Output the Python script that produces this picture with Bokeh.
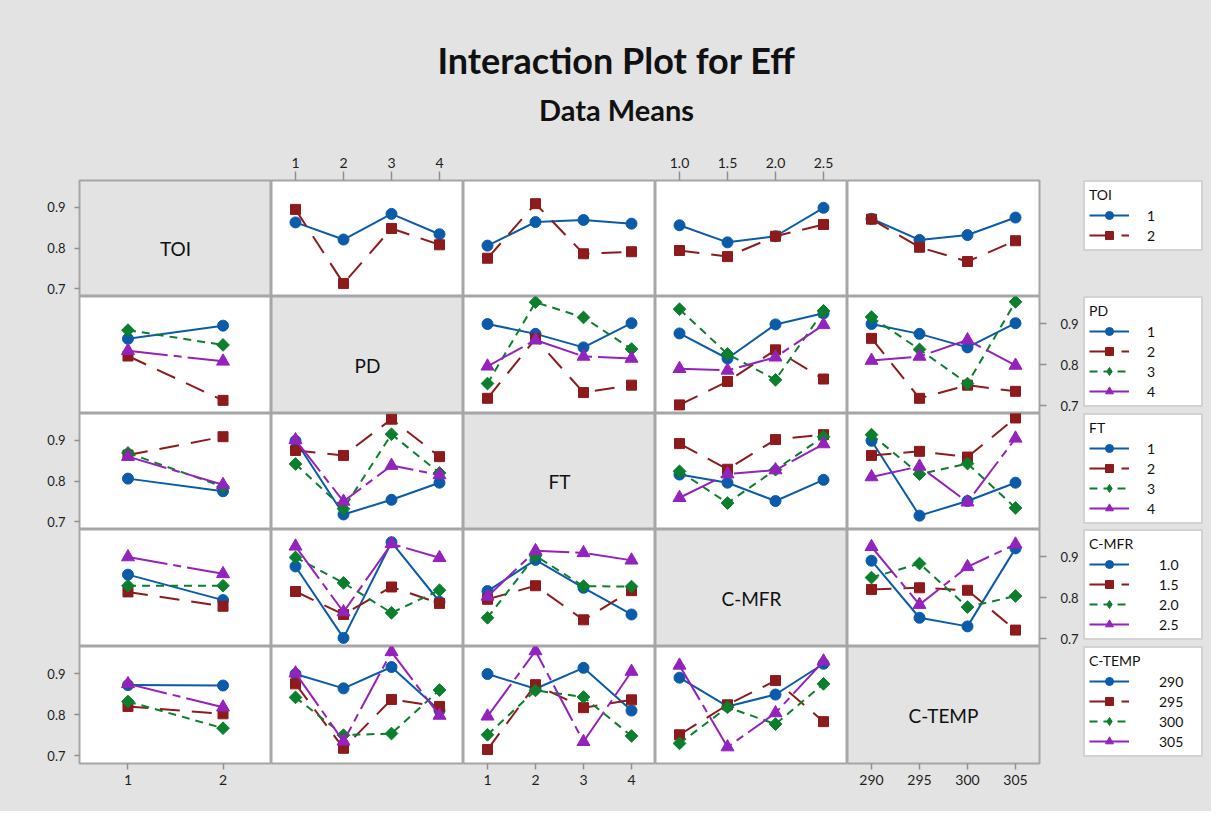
import math
from bokeh.plotting import figure
from bokeh.layouts import gridplot, column
from bokeh.models import Range1d, LinearAxis, FixedTicker, Legend, LegendItem, Label
from bokeh.embed import file_html
from bokeh.resources import INLINE

# ---------------- data ----------------
factors = ["TOI", "PD", "FT", "C-MFR", "C-TEMP"]
toi_levels = [1, 2]
pd_levels = [1, 2, 3, 4]
ft_levels = [1, 2, 3, 4]
cmfr_levels = [1.0, 1.5, 2.0, 2.5]
ctemp_levels = [290, 295, 300, 305]
toi_labels = ["1", "2"]
pd_labels = ["1", "2", "3", "4"]
ft_labels = ["1", "2", "3", "4"]
cmfr_labels = ["1.0", "1.5", "2.0", "2.5"]
ctemp_labels = ["290", "295", "300", "305"]
y_ticks = [0.7, 0.8, 0.9]

# mean of Eff: rows = levels of first factor, columns = levels of second factor
toi_pd = [[0.863, 0.821, 0.884, 0.834],
          [0.895, 0.713, 0.848, 0.808]]
toi_ft = [[0.806, 0.864, 0.869, 0.860],
          [0.775, 0.909, 0.786, 0.791]]
toi_cmfr = [[0.856, 0.814, 0.829, 0.899],
            [0.794, 0.779, 0.829, 0.858]]
toi_ctemp = [[0.872, 0.820, 0.832, 0.875],
             [0.871, 0.802, 0.767, 0.818]]
pd_ft = [[0.899, 0.875, 0.842, 0.901],
         [0.718, 0.863, 0.732, 0.750],
         [0.754, 0.952, 0.915, 0.838],
         [0.796, 0.860, 0.820, 0.815]]
pd_cmfr = [[0.876, 0.815, 0.898, 0.925],
           [0.702, 0.759, 0.836, 0.765],
           [0.935, 0.826, 0.763, 0.931],
           [0.790, 0.786, 0.818, 0.897]]
pd_ctemp = [[0.899, 0.875, 0.842, 0.901],
            [0.864, 0.718, 0.750, 0.735],
            [0.916, 0.837, 0.754, 0.953],
            [0.810, 0.820, 0.860, 0.798]]
ft_cmfr = [[0.816, 0.796, 0.751, 0.803],
           [0.892, 0.829, 0.902, 0.914],
           [0.824, 0.746, 0.828, 0.909],
           [0.759, 0.817, 0.827, 0.891]]
ft_ctemp = [[0.899, 0.715, 0.751, 0.796],
            [0.863, 0.873, 0.859, 0.955],
            [0.914, 0.817, 0.843, 0.734],
            [0.810, 0.836, 0.748, 0.905]]
cmfr_ctemp = [[0.890, 0.751, 0.730, 0.920],
              [0.820, 0.824, 0.818, 0.721],
              [0.849, 0.883, 0.777, 0.804],
              [0.924, 0.783, 0.875, 0.930]]

levels = {"TOI": toi_levels, "PD": pd_levels, "FT": ft_levels,
          "C-MFR": cmfr_levels, "C-TEMP": ctemp_levels}
labels = {"TOI": toi_labels, "PD": pd_labels, "FT": ft_labels,
          "C-MFR": cmfr_labels, "C-TEMP": ctemp_labels}
tables = {("TOI", "PD"): toi_pd, ("TOI", "FT"): toi_ft, ("TOI", "C-MFR"): toi_cmfr,
          ("TOI", "C-TEMP"): toi_ctemp, ("PD", "FT"): pd_ft, ("PD", "C-MFR"): pd_cmfr,
          ("PD", "C-TEMP"): pd_ctemp, ("FT", "C-MFR"): ft_cmfr, ("FT", "C-TEMP"): ft_ctemp,
          ("C-MFR", "C-TEMP"): cmfr_ctemp}


def table(rf, cf):
    if (rf, cf) in tables:
        return tables[(rf, cf)]
    t = tables[(cf, rf)]
    return [list(col) for col in zip(*t)]


# ---------------- style ----------------
FONT = "Lato"
BG = "#e3e3e3"
BORDER = "#a6a6a6"
colors = ["#0A5BA9", "#8E1B1B", "#0B7F2B", "#9422BC"]
dashes = ["solid", "20 12", "8 6", "40 6 8 6"]
markers = ["circle", "square", "square", "triangle"]
legend_markers = ["circle", "square", "diamond", "triangle"]
msizes = [11, 10, 9, 13]
mangles = [0, 0, math.pi / 4, 0]

x_limits = {"TOI": (0.49, 2.51), "PD": (0.5, 4.5), "FT": (0.5, 4.5),
            "C-MFR": (0.75, 2.75), "C-TEMP": (287.5, 307.5)}
y_limits = (0.681, 0.966)
row_h = [116, 117, 116, 117, 117]
col_w = 192
LEFT = 79
TOP = 36
BOTTOM = 48
RIGHT = 44
LEG_GAP = 0
LEG_W = 128


def style_axis(ax, tick_out, standoff, size="14px"):
    ax.axis_line_color = None
    ax.major_tick_in = 0
    ax.major_tick_out = tick_out
    ax.major_tick_line_color = "#8f8f8f"
    ax.major_tick_line_width = 1.5
    ax.minor_tick_line_color = None
    ax.major_label_standoff = standoff
    ax.major_label_text_font = FONT
    ax.major_label_text_font_size = size
    ax.major_label_text_color = "#1e1e1e"


def make_legend_fig(r, rf):
    # legend-only panel: its renderers lie outside the panel's ranges, so only the
    # legend box (with its line/marker samples) is visible
    lp = figure(frame_width=LEG_W, frame_height=row_h[r], x_range=Range1d(-3, -2),
                y_range=Range1d(-3, -2), x_axis_type=None, y_axis_type=None,
                toolbar_location=None, output_backend="svg", min_border=0)
    lp.min_border_left = LEG_GAP
    lp.min_border_top = TOP if r == 0 else 0
    lp.min_border_bottom = BOTTOM if r == 4 else 0
    lp.outline_line_color = None
    lp.border_fill_color = BG
    lp.background_fill_color = BG
    cf = "C-TEMP" if rf != "C-TEMP" else "C-MFR"
    t = table(rf, cf)
    items = []
    for i, lab in enumerate(labels[rf]):
        lr = lp.line(x=levels[cf], y=t[i], line_color=colors[i], line_dash=dashes[i],
                     line_width=2)
        sr = lp.scatter(x=levels[cf], y=t[i], marker=legend_markers[i], size=msizes[i],
                        color=colors[i])
        items.append(LegendItem(label=lab, renderers=[lr, sr]))
    wide = rf in ("C-MFR", "C-TEMP")
    leg = Legend(items=items, location="top_left", margin=0, padding=4,
                 title=rf, glyph_width=40, glyph_height=20, label_height=20, spacing=0,
                 label_standoff=30 if wide else 18,
                 label_width=38 if wide else 50,
                 border_line_color=BORDER, border_line_width=2,
                 background_fill_color="white", background_fill_alpha=1,
                 label_text_font=FONT, label_text_font_size="14px",
                 label_text_color="#111111",
                 title_text_font=FONT, title_text_font_size="14px",
                 title_text_font_style="normal", title_text_color="#111111",
                 title_standoff=2)
    lp.add_layout(leg)
    return lp


grid = []
for r, rf in enumerate(factors):
    row = []
    for c, cf in enumerate(factors):
        p = figure(frame_width=col_w, frame_height=row_h[r],
                   x_range=Range1d(*x_limits[cf]), y_range=Range1d(*y_limits),
                   x_axis_type=None, y_axis_type=None, toolbar_location=None,
                   output_backend="svg", min_border=0)
        p.min_border_left = LEFT if c == 0 else 0
        p.min_border_top = TOP if r == 0 else 0
        p.min_border_bottom = BOTTOM if r == 4 else 0
        p.min_border_right = RIGHT if c == 4 else 0
        p.border_fill_color = BG
        p.background_fill_color = BG if r == c else "white"
        p.outline_line_color = BORDER
        p.outline_line_width = 2

        # axes on the outer edges
        xov = {lv: lb for lv, lb in zip(levels[cf], labels[cf])}
        if r == 0 and c in (1, 3):
            ax = LinearAxis(ticker=FixedTicker(ticks=levels[cf]), major_label_overrides=xov)
            style_axis(ax, 9, 4)
            p.add_layout(ax, "above")
        if r == 4 and c in (0, 2, 4):
            ax = LinearAxis(ticker=FixedTicker(ticks=levels[cf]), major_label_overrides=xov)
            style_axis(ax, 6, 5)
            p.add_layout(ax, "below")
        if c == 0 and r in (0, 2, 4):
            ax = LinearAxis(ticker=FixedTicker(ticks=y_ticks))
            style_axis(ax, 5, 9, "13px")
            p.add_layout(ax, "left")
        if c == 4 and r in (1, 3):
            ax = LinearAxis(ticker=FixedTicker(ticks=y_ticks))
            style_axis(ax, 7, 14, "13px")
            p.add_layout(ax, "right")

        if r == c:
            xr = x_limits[cf]
            p.add_layout(Label(x=(xr[0] + xr[1]) / 2, y=(y_limits[0] + y_limits[1]) / 2,
                               text=rf, text_align="center", text_baseline="middle",
                               y_offset=-10, text_font=FONT, text_font_size="19px",
                               text_color="#111111"))
        else:
            t = table(rf, cf)
            for i in range(len(levels[rf])):
                p.line(x=levels[cf], y=t[i], line_color=colors[i],
                       line_dash=dashes[i], line_width=2)
                p.scatter(x=levels[cf], y=t[i], marker=markers[i], size=msizes[i],
                          angle=mangles[i], color=colors[i])
        row.append(p)
    row.append(make_legend_fig(r, rf))
    grid.append(row)

gp = gridplot(grid, toolbar_location=None)
gp.styles = {"background-color": BG}

TOTAL_W = LEFT + 5 * col_w + RIGHT + LEG_GAP + LEG_W
tp = figure(width=TOTAL_W, height=144, x_range=Range1d(0, 1), y_range=Range1d(0, 1),
            x_axis_type=None, y_axis_type=None, toolbar_location=None,
            output_backend="svg", min_border=0)
tp.outline_line_color = None
tp.border_fill_color = BG
tp.background_fill_color = BG
tp.add_layout(Label(x=616, y=85, x_units="screen", y_units="screen",
                    text="Interaction Plot for Eff", text_align="center",
                    text_baseline="alphabetic", text_font=FONT, text_font_size="36px",
                    text_font_style="bold", text_color="#111111"))
tp.add_layout(Label(x=616, y=35, x_units="screen", y_units="screen",
                    text="Data Means", text_align="center",
                    text_baseline="alphabetic", text_font=FONT, text_font_size="29px",
                    text_font_style="bold", text_color="#111111"))

layout = column(tp, gp)
layout.styles = {"background-color": BG}
open("out.html", "w").write(file_html(layout, INLINE))
